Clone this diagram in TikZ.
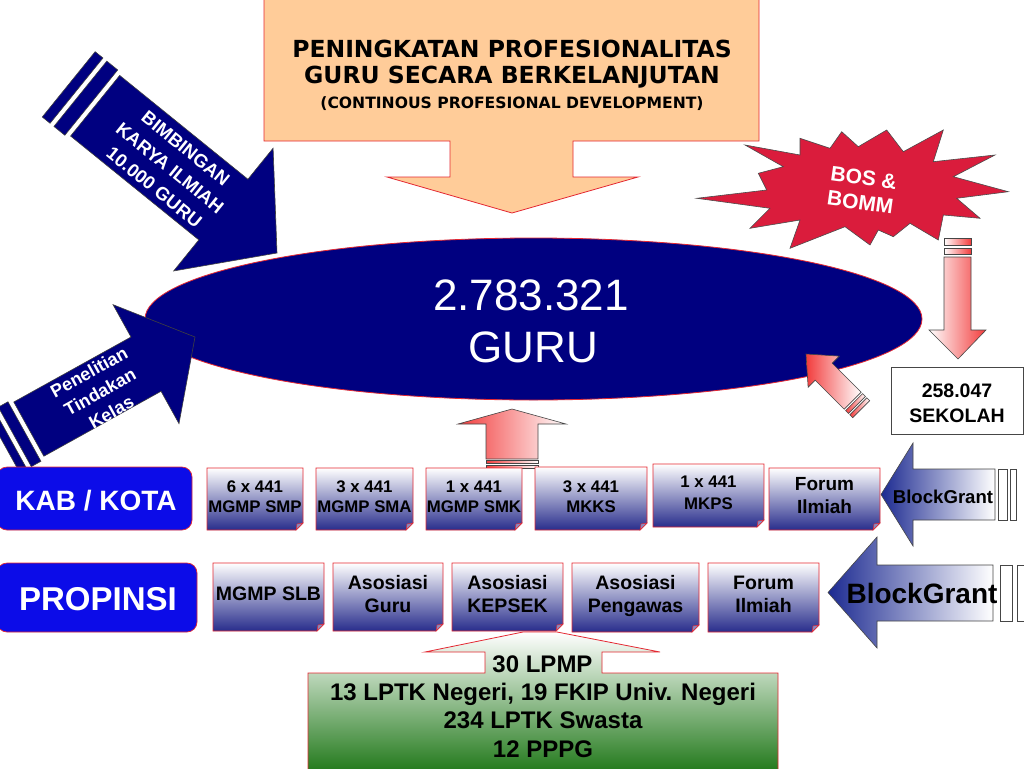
\documentclass[tikz,border=0pt]{standalone}
\usepackage{fontspec}
\setmainfont{Liberation Sans}
\newfontfamily\verd{DejaVu Sans}
\usetikzlibrary{shapes.geometric}
\definecolor{navy}{RGB}{0,0,128}
\definecolor{bred}{RGB}{228,40,50}
\definecolor{peach}{RGB}{255,204,153}
\definecolor{lblue}{RGB}{12,12,232}
\definecolor{crim}{RGB}{218,28,60}
\definecolor{bxbot}{RGB}{40,45,140}
\definecolor{bxmid}{RGB}{180,180,215}
\definecolor{pinkr}{RGB}{242,60,60}
\definecolor{grn}{RGB}{35,122,28}
\definecolor{grnmid}{RGB}{185,205,180}
\definecolor{bgblue}{RGB}{28,42,145}
\definecolor{dgray}{RGB}{70,70,70}
\newcommand\fs[1]{\fontsize{#1}{#1}\selectfont}
\newcommand\txtline[6][]{\node[txt,font={\bfseries\fs{#5}},#1] (#2) at (#3,#4) {#6};}
\newcommand\gbox[4]{%
  \draw[gboxs] (#1,#2) -- (#3,#2) -- (#3,#4-7) -- (#3-7,#4) -- (#1,#4) -- cycle;
  \draw[foldst] (#3,#4-7) -- (#3-7,#4) -- (#3-6,#4-6) -- cycle;}
\tikzset{
  txt/.style={inner sep=0pt, anchor=base, text=black},
  wtxt/.style={text=white},
  navyshape/.style={fill=navy, draw=black!75, line width=0.6pt},
  pinkright/.style={left color=white, right color=pinkr, draw=dgray, line width=0.6pt},
  pinkleft/.style={left color=pinkr, right color=white, draw=dgray, line width=0.6pt},
  gboxs/.style={top color=white, middle color=bxmid, bottom color=bxbot, draw=bred, line width=0.7pt},
  foldst/.style={fill=bxbot!55!white, draw=bred, line width=0.5pt},
  lblbox/.style={fill=lblue, draw=bred, line width=0.7pt, rounded corners=10pt},
  bgarrow/.style={left color=bgblue, right color=white, draw=dgray, line width=0.6pt},
  bgstripe/.style={fill=white, draw=dgray, line width=0.6pt},
  rot/.style={inner sep=0pt, text=white, align=center},
}
\begin{document}
\begin{tikzpicture}[x=1pt,y=-1pt]
\useasboundingbox (0,0) rectangle (1024,768);
\clip (0,0) rectangle (1024,768);
\fill[white] (0,0) rectangle (1024,768);

% top peach box with arrow
\draw[fill=peach, draw=bred, line width=0.8pt] (264,-1) -- (759,-1) -- (759,141) -- (573,141) -- (573,177) -- (638,177) -- (512,213) -- (387,177) -- (450,177) -- (450,141) -- (264,141) -- cycle;
\node[txt, font={\verd\bfseries\fs{23.5}}] (t1) at (512,57) {PENINGKATAN PROFESIONALITAS};
\node[txt, font={\verd\bfseries\fs{23.5}}] (t2) at (512,83) {GURU SECARA BERKELANJUTAN};
\node[txt, font={\verd\bfseries\fs{15.6}}] (t3) at (512,108) {(CONTINOUS PROFESIONAL DEVELOPMENT)};

% ellipse
\node[ellipse, fill=navy, draw=bred, line width=0.8pt, minimum width=777pt, minimum height=162pt, inner sep=0pt] (guru) at (533.5,319) {};
\node[txt, wtxt, font={\fs{44}}] (num) at (531,310) {2.783.321};
\node[txt, wtxt, font={\fs{44}}] (gurut) at (533,362) {GURU};

% BIMBINGAN arrow
\begin{scope}[shift={(277,253)}, rotate=-39]
  \draw[navyshape] (0,0) -- (-69,79) -- (-69,39) -- (-234,39) -- (-234,-39) -- (-69,-39) -- (-69,-79) -- cycle;
  \draw[navyshape] (-239,-42) rectangle (-253,42);
  \draw[navyshape] (-258,-42) rectangle (-268,42);
\end{scope}
\node[rot, rotate=-39, font={\bfseries\fontsize{18.5}{25}\selectfont}] (bim) at (170,168) {BIMBINGAN\\KARYA ILMIAH\\10.000 GURU};

% Penelitian arrow
\begin{scope}[shift={(195,337)}, rotate=29]
  \draw[navyshape] (0,0) -- (-56,68) -- (-56,31) -- (-190,31) -- (-190,-31) -- (-56,-31) -- (-56,-68) -- cycle;
  \draw[navyshape] (-195,-34) rectangle (-206,34);
  \draw[navyshape] (-211,-34) rectangle (-219,34);
\end{scope}
\node[rot, rotate=29, font={\bfseries\fontsize{18}{23}\selectfont}] (pen) at (100,392) {Penelitian\\Tindakan\\Kelas};

% star
\draw[fill=crim, draw=black!70, line width=0.6pt] (696.7,198.3) -- (766.7,190) -- (758.3,173.3) -- (783.3,166.7) -- (745,145) -- (800,155) -- (800,138.3) -- (830,148.3) -- (841.7,131.7) -- (858.3,146.7) -- (886.7,130) -- (903.3,151.7) -- (943.3,130) -- (933.3,161.7) -- (995,155) -- (953.3,176.7) -- (1008.3,191.7) -- (956.7,198.3) -- (980,218.3) -- (943.3,215) -- (938.3,240) -- (910,223.3) -- (893.3,236.7) -- (878.3,230) -- (870,245) -- (845,226.7) -- (790,248.3) -- (800,220) -- (750,228.3) -- (770,208.3) -- cycle;
\node[rot, rotate=-8, font={\bfseries\fontsize{21}{25}\selectfont}] (bos) at (862,190) {BOS \&\\BOMM};

% pink arrow down from star
\draw[pinkright] (944,238) rectangle (971,245);
\draw[pinkright] (944,248) rectangle (971,254);
\draw[pinkright] (944,257) -- (971,257) -- (971,330) -- (986,330) -- (958,359) -- (929,330) -- (944,330) -- cycle;

% sekolah box
\node[draw=dgray, fill=white, line width=0.7pt, minimum width=132pt, minimum height=67pt, inner sep=0pt] (sek) at (957,400.5) {};
\txtline{s1}{957}{397}{19.5}{258.047}
\txtline{s2}{957}{422}{19.5}{SEKOLAH}

% small pink arrow toward ellipse
\begin{scope}[shift={(806,354)}, rotate=135]
  \draw[pinkleft] (0,0) -- (-25,22) -- (-25,12) -- (-66,12) -- (-66,-12) -- (-25,-12) -- (-25,-22) -- cycle;
  \draw[pinkleft] (-68,-12) rectangle (-72,12);
  \draw[pinkleft] (-74,-12) rectangle (-78,12);
\end{scope}

% central up arrow
\draw[pinkleft] (486,459) -- (486,424) -- (458,424) -- (512,409) -- (566,424) -- (538,424) -- (538,459) -- cycle;
\draw[pinkleft] (486,460) rectangle (538,463);
\draw[pinkleft] (486,465) rectangle (538,468);

% KAB / KOTA row
\draw[lblbox] (-3,467) rectangle (192,530);
\txtline[wtxt]{kab}{96}{510}{28}{KAB / KOTA}
\gbox{207}{468}{303}{530}
\gbox{316}{468}{413}{530}
\gbox{426}{468}{522}{530}
\gbox{535}{467}{647}{530}
\gbox{653}{464}{764}{527}
\gbox{769}{468}{880}{530}
\txtline{b1a}{255}{492}{16.8}{6 x 441}
\txtline{b1b}{255}{512}{16.8}{MGMP SMP}
\txtline{b2a}{364.5}{492}{16.8}{3 x 441}
\txtline{b2b}{364.5}{512}{16.8}{MGMP SMA}
\txtline{b3a}{474}{492}{16.8}{1 x 441}
\txtline{b3b}{474}{512}{16.8}{MGMP SMK}
\txtline{b4a}{591}{492}{16.8}{3 x 441}
\txtline{b4b}{591}{512}{16.8}{MKKS}
\txtline{b5a}{708.5}{487}{16.8}{1 x 441}
\txtline{b5b}{708.5}{509}{16.8}{MKPS}
\txtline{b6a}{824.5}{490}{19}{Forum}
\txtline{b6b}{824.5}{513}{19}{Ilmiah}

% BlockGrant arrow row 1
\draw[bgarrow] (881,494.5) -- (913,443) -- (913,469) -- (995,469) -- (995,520) -- (913,520) -- (913,546) -- cycle;
\draw[bgstripe] (998,469) rectangle (1007,520);
\draw[bgstripe] (1010,469) rectangle (1016,520);
\txtline{bg1}{943}{503}{18.6}{BlockGrant}

% PROPINSI row
\draw[lblbox] (-3,563) rectangle (197,632);
\txtline[wtxt]{prop}{98}{610}{33}{PROPINSI}
\gbox{213}{563}{324}{631}
\gbox{333}{563}{443}{631}
\gbox{452}{563}{563}{631}
\gbox{572}{563}{699}{632}
\gbox{708}{563}{819}{632}
\txtline{c1}{268.5}{600}{19.5}{MGMP SLB}
\txtline{c2a}{388}{589}{19.5}{Asosiasi}
\txtline{c2b}{388}{612}{19.5}{Guru}
\txtline{c3a}{507.5}{589}{19.5}{Asosiasi}
\txtline{c3b}{507.5}{612}{19.5}{KEPSEK}
\txtline{c4a}{635.5}{589}{19.5}{Asosiasi}
\txtline{c4b}{635.5}{612}{19.5}{Pengawas}
\txtline{c5a}{763.5}{589}{19.5}{Forum}
\txtline{c5b}{763.5}{612}{19.5}{Ilmiah}

% BlockGrant arrow row 2
\draw[bgarrow] (828,592.5) -- (877,537) -- (877,565) -- (993,565) -- (993,621) -- (877,621) -- (877,648) -- cycle;
\draw[bgstripe] (1000,565) rectangle (1012,621);
\draw[bgstripe] (1017,565) rectangle (1025,621);
\txtline{bg2}{922}{603}{28}{BlockGrant}

% green callout
\draw[top color=white, middle color=grnmid, bottom color=grn, draw=bred, line width=0.8pt] (308,673) -- (485,673) -- (485,652) -- (425,652) -- (523,632) -- (557,632) -- (660,652) -- (602,652) -- (602,673) -- (778,673) -- (778,771) -- (308,771) -- cycle;
\txtline{g1}{542.5}{672}{24}{30 LPMP}
\txtline{g2}{543}{700}{24}{13 LPTK Negeri, 19 FKIP Univ. Negeri}
\txtline{g3}{543}{728}{24}{234 LPTK Swasta}
\txtline{g4}{543}{757}{24}{12 PPPG}
\end{tikzpicture}
\end{document}
